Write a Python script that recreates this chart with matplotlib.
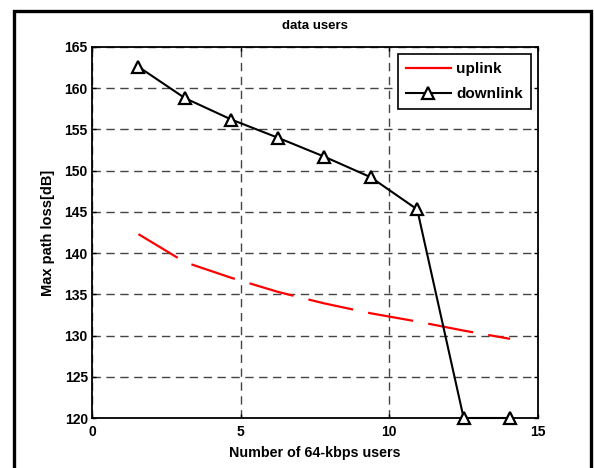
import matplotlib
matplotlib.use('Agg')
import matplotlib.pyplot as plt
from matplotlib.lines import Line2D
from matplotlib.patches import Rectangle

# Dados do gráfico
usuarios = [1.5625, 3.125, 4.6875, 6.25, 7.8125, 9.375, 10.9375, 12.5, 14.0625]
uplink = [142.3, 138.9, 137.0, 135.3, 133.9, 132.7, 131.7, 130.6, 129.6]
downlink = [162.6, 158.8, 156.2, 154.0, 151.7, 149.2, 145.3, 120.0, 120.0]
xticks = [0, 5, 10, 15]
yticks = [120, 125, 130, 135, 140, 145, 150, 155, 160, 165]

# Fonte parecida com Arial
plt.rcParams['font.family'] = ['Liberation Sans', 'DejaVu Sans']
plt.rcParams['font.weight'] = 'bold'
plt.rcParams['lines.scale_dashes'] = False

fig = plt.figure(figsize=(5.94, 4.68), dpi=100)
ax = fig.add_axes([92 / 594, 1 - 418 / 468, (538 - 92) / 594, (418 - 47) / 468])

# Moldura externa da figura
fig.patches.append(Rectangle((14 / 594, -0.05), (591 - 14) / 594, 1.05 - 11 / 468,
                             transform=fig.transFigure, fill=False,
                             edgecolor='black', linewidth=2.4))

# Linhas
ax.plot(usuarios, uplink, color='red', linewidth=1.6, dashes=(33, 11))
ax.plot(usuarios, downlink, color='black', linewidth=1.5, marker='^',
        markersize=9, markerfacecolor='white', markeredgecolor='black',
        markeredgewidth=1.6, clip_on=False, zorder=3)

# Eixos
ax.set_xlim(0, 15)
ax.set_ylim(120, 165)
ax.set_xticks(xticks)
ax.set_yticks(yticks)
ax.tick_params(direction='in', length=3, width=1, top=True, right=True,
               labelsize=10, pad=3)
ax.tick_params(axis='x', pad=5)
for s in ax.spines.values():
    s.set_linewidth(1.3)

# Grade tracejada
ax.grid(True, color='#444444', linestyle=(0, (6, 4)), linewidth=1.0)

# Textos
ax.set_title('data users', fontsize=9.5, fontweight='bold', pad=13)
ax.set_xlabel('Number of 64-kbps users', fontsize=10.3, fontweight='bold', labelpad=5)
ax.set_ylabel('Max path loss[dB]', fontsize=10.5, fontweight='bold', labelpad=7)

# Legenda (linha vermelha contínua na legenda)
handles = [Line2D([], [], color='red', linewidth=1.6),
           Line2D([], [], color='black', linewidth=1.5, marker='^', markersize=9,
                  markerfacecolor='white', markeredgecolor='black', markeredgewidth=1.6)]
leg = ax.legend(handles, ['uplink', 'downlink'], loc='upper right', fontsize=11,
                frameon=True, fancybox=False, edgecolor='black', framealpha=1,
                handlelength=2.9, handletextpad=0.35, borderaxespad=0.45,
                labelspacing=0.7, borderpad=0.55)
leg.get_frame().set_linewidth(1.2)

fig.savefig('out.png', dpi=100)
